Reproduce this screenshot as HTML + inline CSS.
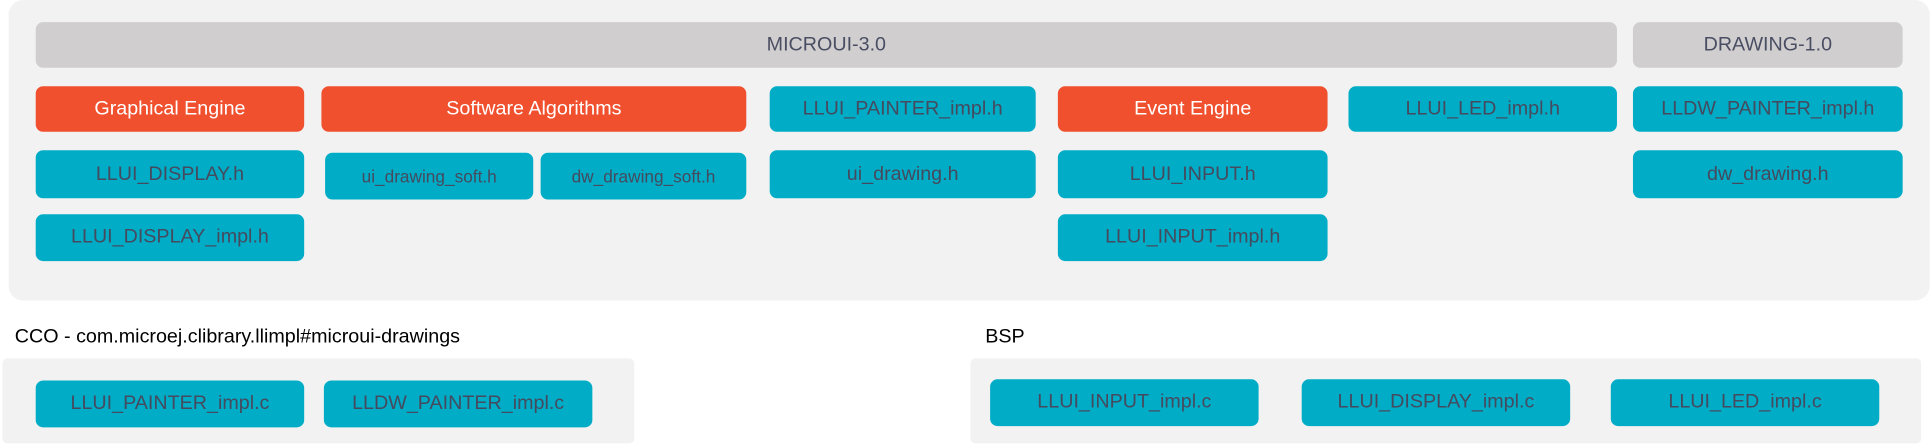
<!DOCTYPE html>
<html><head><style>
body{margin:0;width:1931px;height:445px;background:#fff;position:relative;overflow:hidden;font-family:"Liberation Sans",sans-serif}
#w{position:absolute;left:0;top:0;width:1568px;height:362px;transform:scale(1.2315);transform-origin:0 0}
#w div{position:absolute;box-sizing:border-box}
.p{background:#f2f2f2;border-radius:12px}
.b{display:flex;align-items:center;justify-content:center;border-radius:6px;font-size:16px;white-space:nowrap}
.g{background:#d0cecf;color:#4a4e63}
.o{background:#f0502e;color:#fff}
.t{background:#00acc6;color:#454a5e}
.s{font-size:14px}
.l{font-size:16px;color:#000}
</style></head><body><div id="w">
<div class="p" style="left:7px;top:0;width:1560px;height:244px"></div>
<div class="b g" style="left:29px;top:18px;width:1284px;height:37px">MICROUI-3.0</div>
<div class="b g" style="left:1326px;top:18px;width:219px;height:37px">DRAWING-1.0</div>

<div class="b o" style="left:29px;top:70px;width:218px;height:37px">Graphical Engine</div>
<div class="b o" style="left:261px;top:70px;width:345px;height:37px">Software Algorithms</div>
<div class="b t" style="left:625px;top:70px;width:216px;height:37px">LLUI_PAINTER_impl.h</div>
<div class="b o" style="left:859px;top:70px;width:219px;height:37px">Event Engine</div>
<div class="b t" style="left:1095px;top:70px;width:218px;height:37px">LLUI_LED_impl.h</div>
<div class="b t" style="left:1326px;top:70px;width:219px;height:37px">LLDW_PAINTER_impl.h</div>

<div class="b t" style="left:29px;top:122px;width:218px;height:39px">LLUI_DISPLAY.h</div>
<div class="b t s" style="left:264px;top:124px;width:169px;height:38px">ui_drawing_soft.h</div>
<div class="b t s" style="left:439px;top:124px;width:167px;height:38px">dw_drawing_soft.h</div>
<div class="b t" style="left:625px;top:122px;width:216px;height:39px">ui_drawing.h</div>
<div class="b t" style="left:859px;top:122px;width:219px;height:39px">LLUI_INPUT.h</div>
<div class="b t" style="left:1326px;top:122px;width:219px;height:39px">dw_drawing.h</div>

<div class="b t" style="left:29px;top:174px;width:218px;height:38px">LLUI_DISPLAY_impl.h</div>
<div class="b t" style="left:859px;top:174px;width:219px;height:38px">LLUI_INPUT_impl.h</div>

<div class="l" style="left:12px;top:265px">CCO - com.microej.clibrary.llimpl#microui-drawings</div>
<div class="l" style="left:800px;top:265px">BSP</div>

<div class="p" style="left:2px;top:291px;width:513px;height:69px;border-radius:4px"></div>
<div class="p" style="left:788px;top:291px;width:772px;height:69px;border-radius:4px"></div>
<div class="b t" style="left:29px;top:309px;width:218px;height:38px">LLUI_PAINTER_impl.c</div>
<div class="b t" style="left:263px;top:309px;width:218px;height:38px">LLDW_PAINTER_impl.c</div>
<div class="b t" style="left:804px;top:308px;width:218px;height:38px">LLUI_INPUT_impl.c</div>
<div class="b t" style="left:1057px;top:308px;width:218px;height:38px">LLUI_DISPLAY_impl.c</div>
<div class="b t" style="left:1308px;top:308px;width:218px;height:38px">LLUI_LED_impl.c</div>
</div></body></html>
